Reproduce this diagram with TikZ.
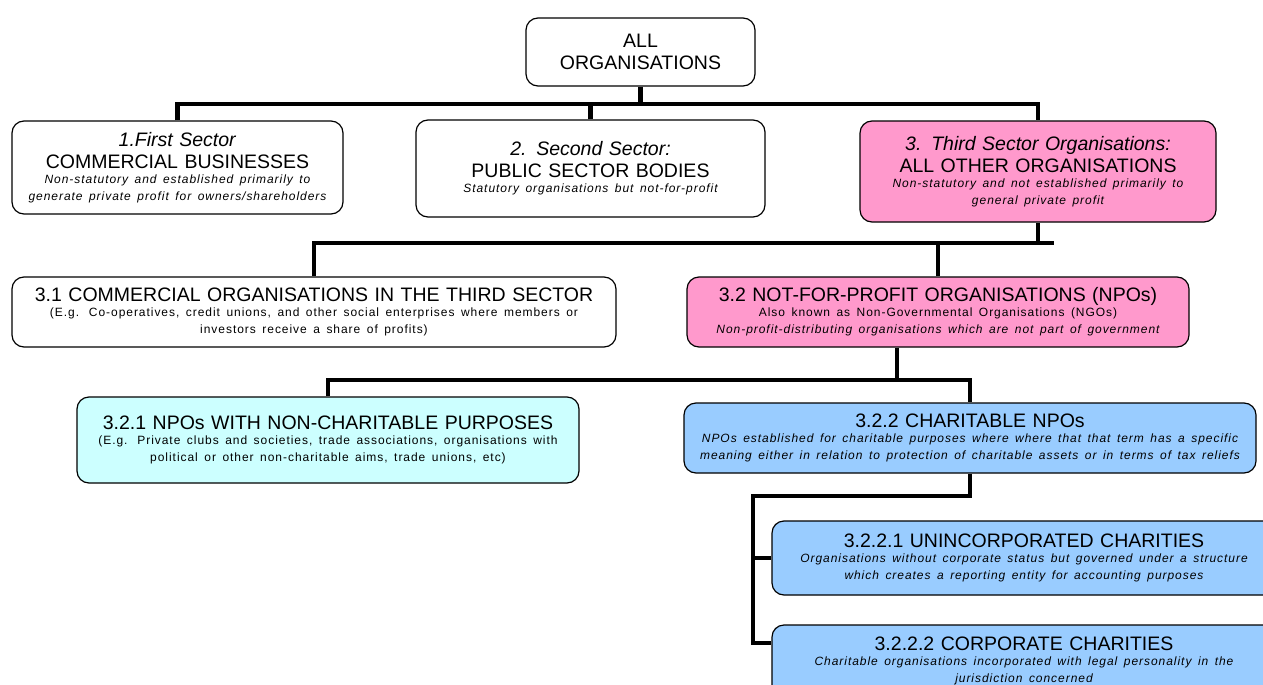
\documentclass[tikz,border=0pt]{standalone}
\usepackage{fontspec}
\setmainfont{Liberation Sans}
\newfontfamily\notefamily[LetterSpace=8]{Liberation Sans}
\usepackage{tikz}

\definecolor{thirdpink}{HTML}{FF99CC}
\definecolor{npocyan}{HTML}{CCFFFF}
\definecolor{charblue}{HTML}{99CCFF}

\newcommand{\notefont}{\notefamily\fontsize{12}{17}\selectfont}
\newcommand{\boxnote}[1]{\par\vspace{-2pt}{\notefont #1\par}}

\begin{document}
\begin{tikzpicture}[
  x=1pt, y=-1pt,
  every node/.style={font=\fontsize{19.5}{22}\selectfont, align=center},
  box/.style={draw, rounded corners=12pt, line width=1.2pt, fill=white, inner sep=0pt},
  pinkbox/.style={box, fill=thirdpink},
  cyanbox/.style={box, fill=npocyan},
  bluebox/.style={box, fill=charblue},
  boxsize/.style 2 args={minimum width=#1pt, text width=#1pt, minimum height=#2pt},
  link/.style={line width=4.2pt}
]
\fill[white] (0,0) rectangle (1263,685);
\useasboundingbox (0,0) rectangle (1263,685);

% Nodes
\node[box, boxsize={229}{68}] (all) at (640.5,52) {ALL\\ ORGANISATIONS};
\node[box, boxsize={331}{93}] (first) at (177.5,167.5) {\textit{1.First Sector}\\ COMMERCIAL BUSINESSES\boxnote{\itshape Non-statutory and established primarily to\\ generate private profit for owners/shareholders}};
\node[box, boxsize={349}{97}] (second) at (590.5,168.5) {\textit{2. Second Sector:}\\ PUBLIC SECTOR BODIES\boxnote{\itshape Statutory organisations but not-for-profit}};
\node[pinkbox, boxsize={356}{101}] (third) at (1038,171.5) {\textit{3. Third Sector Organisations:}\\ ALL OTHER ORGANISATIONS\boxnote{\itshape Non-statutory and not established primarily to\\ general private profit}};
\node[box, boxsize={604}{70}] (commercial) at (314,312) {3.1 COMMERCIAL ORGANISATIONS IN THE THIRD SECTOR\boxnote{(E.g. Co-operatives, credit unions, and other social enterprises where members or\\ investors receive a share of profits)}};
\node[pinkbox, boxsize={502}{70}] (npo) at (938,312) {3.2 NOT-FOR-PROFIT ORGANISATIONS (NPOs)\boxnote{Also known as Non-Governmental Organisations (NGOs)\\ \itshape Non-profit-distributing organisations which are not part of government}};
\node[cyanbox, boxsize={502}{86}] (noncharitable) at (328,440) {3.2.1 NPOs WITH NON-CHARITABLE PURPOSES\boxnote{(E.g. Private clubs and societies, trade associations, organisations with\\ political or other non-charitable aims, trade unions, etc)}};
\node[bluebox, boxsize={572}{70}] (charitable) at (970,438) {3.2.2 CHARITABLE NPOs\boxnote{\itshape NPOs established for charitable purposes where where that that term has a specific\\ meaning either in relation to protection of charitable assets or in terms of tax reliefs}};
\node[bluebox, boxsize={504}{74}] (unincorporated) at (1024,558) {3.2.2.1 UNINCORPORATED CHARITIES\boxnote{\itshape Organisations without corporate status but governed under a structure\\ which creates a reporting entity for accounting purposes}};
\node[bluebox, boxsize={504}{72}] (corporate) at (1024,661) {3.2.2.2 CORPORATE CHARITIES\boxnote{\itshape Charitable organisations incorporated with legal personality in the\\ jurisdiction concerned}};

% Connectors
\coordinate (bus1) at (640.5,104);
\coordinate (bus2) at (1054,243);
\coordinate (bus3) at (897,380);
\coordinate (bus4) at (753,496);
\coordinate (corpstub) at (753,643);

\draw[link] (first.north) |- (bus1) -| (third.north);
\draw[link] (all.south) -- (bus1);
\draw[link] (second.north) -- (second.north |- bus1);
\draw[link] (commercial.north) |- (bus2);
\draw[link] (third.south) -- (third.south |- bus2);
\draw[link] (npo.north) -- (npo.north |- bus2);
\draw[link] (noncharitable.north) |- (bus3) -| (charitable.north);
\draw[link] (npo.south -| bus3) -- (bus3);
\draw[link] (charitable.south) |- (bus4) -- (corpstub) -- (corporate.west |- corpstub);
\draw[link] (unincorporated.west) -- (unincorporated.west -| bus4);
\end{tikzpicture}
\end{document}
